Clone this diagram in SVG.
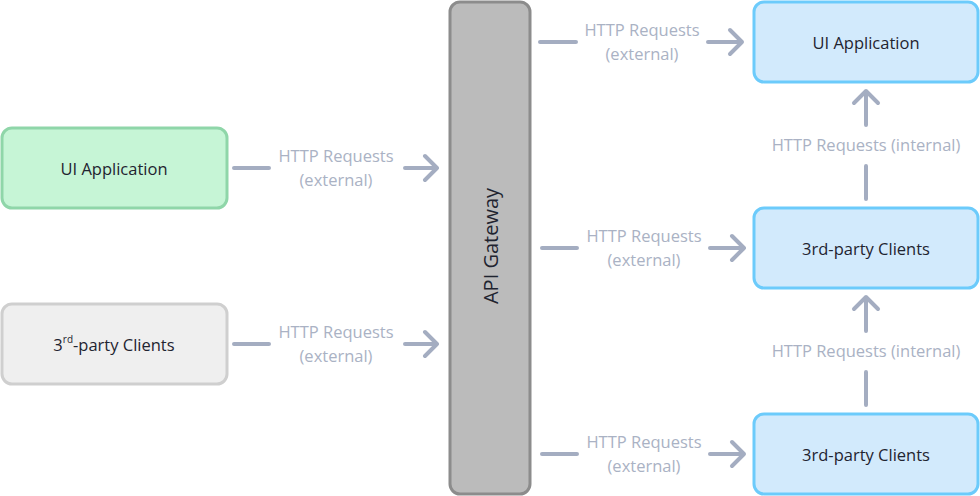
<svg xmlns="http://www.w3.org/2000/svg" width="980" height="496" viewBox="0 0 980 496">
<style>
.n{font-family:"Open Sans","Liberation Sans",sans-serif;font-size:16.5px;font-weight:500;fill:#1f2430;text-anchor:middle;dominant-baseline:central}
.l{font-family:"Open Sans","Liberation Sans",sans-serif;font-size:16.5px;fill:#aab2c4;text-anchor:middle}
.c{stroke:#a4adc1;stroke-width:4;fill:none;stroke-linecap:round;stroke-linejoin:round}
</style>
<rect width="980" height="496" fill="#fff"/>
<g id="ui-left"><rect x="2" y="128" width="225" height="80" rx="10" fill="#c6f5d6" stroke="#8fd6a9" stroke-width="3"/><text class="n" x="114" y="168">UI Application</text></g>
<g id="clients-left"><rect x="2" y="304" width="225" height="80" rx="10" fill="#efefef" stroke="#cfcfcf" stroke-width="3"/><text class="n" x="114" y="344">3<tspan style="font-size:10px" dy="-5">rd</tspan><tspan dy="5">-party Clients</tspan></text></g>
<g id="gateway"><rect x="450" y="2" width="80" height="492" rx="10" fill="#bbbbbb" stroke="#8c8c8c" stroke-width="3"/><text class="n" style="font-size:20px" transform="translate(490 246) rotate(-90)">API Gateway</text></g>
<g id="ui-right"><rect x="754" y="2" width="224" height="80" rx="10" fill="#d2eafc" stroke="#6ccbfb" stroke-width="3"/><text class="n" x="866" y="42">UI Application</text></g>
<g id="clients-right-1"><rect x="754" y="208" width="224" height="80" rx="10" fill="#d2eafc" stroke="#6ccbfb" stroke-width="3"/><text class="n" x="866" y="248">3rd-party Clients</text></g>
<g id="clients-right-2"><rect x="754" y="414" width="224" height="80" rx="10" fill="#d2eafc" stroke="#6ccbfb" stroke-width="3"/><text class="n" x="866" y="454">3rd-party Clients</text></g>
<g id="connectors">
<path class="c" d="M234 168H269M405 168H437M425 156L437 168L425 180"/>
<text class="l" x="336" y="162">HTTP Requests</text><text class="l" x="336" y="186">(external)</text>
<path class="c" d="M234 344H269M405 344H437M425 332L437 344L425 356"/>
<text class="l" x="336" y="338">HTTP Requests</text><text class="l" x="336" y="362">(external)</text>
<path class="c" d="M540 42H576M708 42H742M730 30L742 42L730 54"/>
<text class="l" x="642" y="36">HTTP Requests</text><text class="l" x="642" y="60">(external)</text>
<path class="c" d="M542 248H577M710 248H744M732 236L744 248L732 260"/>
<text class="l" x="644" y="242">HTTP Requests</text><text class="l" x="644" y="266">(external)</text>
<path class="c" d="M542 454H577M710 454H744M732 442L744 454L732 466"/>
<text class="l" x="644" y="448">HTTP Requests</text><text class="l" x="644" y="472">(external)</text>
<path class="c" d="M866 199V166M866 125V91M854 103L866 91L878 103"/>
<text class="l" x="866" y="151">HTTP Requests (internal)</text>
<path class="c" d="M866 405V372M866 331V297M854 309L866 297L878 309"/>
<text class="l" x="866" y="357">HTTP Requests (internal)</text>
</g>
</svg>
